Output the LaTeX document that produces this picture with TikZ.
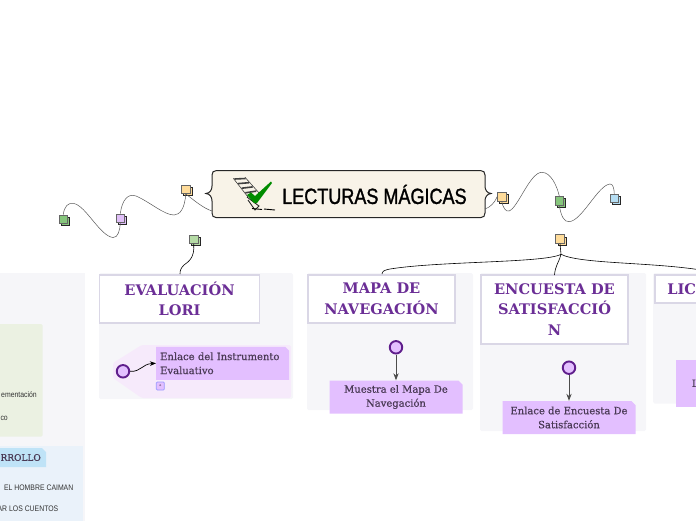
\documentclass[tikz,border=0pt]{standalone}
\usepackage{fontspec}
\setmainfont{DejaVu Serif}
\newfontfamily\condfont[FakeStretch=0.86]{Liberation Sans}
\newfontfamily\handfont[FakeStretch=0.82,FakeBold=1.2]{Liberation Sans}
\newfontfamily\leaffont[FakeBold=0.5]{DejaVu Serif}
\usetikzlibrary{arrows.meta,shapes.misc}
\definecolor{titlepurple}{HTML}{6B2E96}
\definecolor{panelgrey}{HTML}{F6F6F9}
\definecolor{framegrey}{HTML}{DAD7E6}
\definecolor{leafpurple}{HTML}{E3BFFF}
\definecolor{leaftext}{HTML}{4A3A55}
\definecolor{palepurple}{HTML}{F6EAFB}
\definecolor{ringpurple}{HTML}{5F1E8C}
\definecolor{cream}{HTML}{F8F3E8}
\definecolor{tagyellow}{HTML}{FFDC9A}
\definecolor{taggreen}{HTML}{86C67C}
\definecolor{taglime}{HTML}{B5DBA5}
\definecolor{taglilac}{HTML}{E0BFF8}
\definecolor{tagblue}{HTML}{B5DDF2}
\definecolor{palegreen}{HTML}{EBF1E2}
\definecolor{paleblue}{HTML}{EAF2FA}
\definecolor{chipblue}{HTML}{BFE3F7}
\tikzset{
  panel/.style={fill=panelgrey, rounded corners=1.5pt},
  titlebox/.style={draw=framegrey, line width=1.7pt, fill=white, align=center, text=titlepurple, font=\fontsize{14.6}{20.5}\selectfont\bfseries, inner sep=0pt},
  leafbox/.style={chamfered rectangle, chamfered rectangle corners=north east, chamfered rectangle xsep=2pt, chamfered rectangle ysep=2pt, fill=leafpurple, align=center, text=leaftext, font=\leaffont\fontsize{10}{14}\selectfont, inner sep=0pt},
  ringdot/.style={circle, draw=ringpurple, fill=leafpurple, line width=1.9pt, minimum size=12.5pt, inner sep=0pt},
  backtag/.style={draw=black!85, line width=.6pt, minimum size=8.5pt, inner sep=0pt, xshift=2.2pt, yshift=-2.2pt},
  fronttag/.style={draw=black!60, line width=.7pt, minimum size=8.5pt, inner sep=0pt},
  linkline/.style={line width=.5pt, draw=black!65},
  branchline/.style={line width=.6pt, draw=black},
  smalltext/.style={font=\condfont\fontsize{8}{9}\selectfont, text=black!80, inner sep=0pt}
}
% a small pair of stacked squares
\newcommand{\tagpair}[3]{%
  \node[backtag, fill=#3] at (#2) {};
  \node[fronttag, fill=#3] (#1) at (#2) {};
}
\begin{document}
\begin{tikzpicture}[x=1pt,y=-1pt,>=Stealth]
\useasboundingbox (0,0) rectangle (696,520);

% panels
\fill[panelgrey] (-5,273) rectangle (84.5,525);
\fill[panel] (99,273) rectangle (293,399);
\fill[panel] (307,273) rectangle (473,410);
\fill[panel] (480,273) rectangle (646,431);
\fill[panel] (653,273) rectangle (701,403.5);
\fill[palegreen, rounded corners=1.5pt] (-5,324) rectangle (42.7,436.7);
\fill[paleblue] (-5,445.7) rectangle (82.7,525);
\fill[chipblue] (-5,448) -- (42,448) -- (46,452) -- (46,467) -- (-5,467) -- cycle;
\node[font=\leaffont\fontsize{9}{9}\selectfont, text=leaftext, anchor=east, inner sep=0pt] (chipdev) at (41,457.5) {RROLLO};
\node[smalltext, anchor=east] (textimpl) at (37,395) {ementación};
\node[smalltext, anchor=east] (textco) at (8,418) {co};
\node[smalltext, anchor=east] (textcaiman) at (73.5,487.5) {EL HOMBRE CAIMAN};
\node[smalltext, anchor=east] (textcuentos) at (58.5,508.5) {AR LOS CUENTOS};

% title
\draw[fill=cream, line width=1pt, draw=black!85] (216,170.7) -- (481,170.7) .. controls (483.5,170.7) and (485,172) .. (485,175) -- (485,186) .. controls (485,190) and (487,193) .. (491,193.5) .. controls (487,194) and (485,197) .. (485,201) -- (485,213) .. controls (485,216) and (483.5,217.5) .. (481,217.5) -- (216,217.5) .. controls (213.5,217.5) and (212,216) .. (212,213) -- (212,201) .. controls (212,197) and (210,194) .. (206,193.5) .. controls (210,193) and (212,190) .. (212,186) -- (212,175) .. controls (212,172) and (213.5,170.7) .. (216,170.7) -- cycle;
\node[font=\handfont\fontsize{22}{24}\selectfont, inner sep=0pt, anchor=west] (title) at (282,194.5) {LECTURAS MÁGICAS};
% check icon
\draw[black!75, line width=.6pt] (233.3,178.3) -- (248,197) (245,177.3) -- (260,194);
\foreach \n in {0,1,2,3}
  \draw[black!75, line width=1.6pt] (234.5+\n*3.6,179+\n*4.6) -- (245.5+\n*3.6,178.5+\n*4.2);
\draw[black!85, line width=.9pt] (247,197) -- (259,206) -- (255,210) -- (248,200);
\draw[black, line width=.9pt] (252,208.5) -- (262,209.5) (264,209) -- (275,210);
\fill[green!55!black] (247,195) -- (251,192.5) -- (255,196) -- (271,181.5) -- (272,183) -- (257,203) -- (254,203) -- cycle;

% tags
\tagpair{tagone}{63.3,219.3}{taggreen}
\tagpair{tagtwo}{120.3,218.3}{taglilac}
\tagpair{tagthree}{185.7,189.3}{tagyellow}
\tagpair{tagfour}{193.7,239.3}{taglime}
\tagpair{tagfive}{501.7,196.7}{tagyellow}
\tagpair{tagsix}{559.3,200.7}{taggreen}
\tagpair{tagseven}{614.3,198.3}{tagblue}
\tagpair{tageight}{560,239}{tagyellow}

% title boxes
\node[titlebox, minimum width=160pt, minimum height=48pt] (lori) at (179.5,299) {EVALUACIÓN\\LORI};
\node[titlebox, minimum width=147pt, minimum height=48pt] (mapa) at (381.5,299) {MAPA DE\\NAVEGACIÓN};
\node[titlebox, minimum width=147pt, minimum height=69pt] (encuesta) at (554.5,309.5) {ENCUESTA DE\\SATISFACCIÓ\\N};
\node[titlebox, minimum height=28pt, anchor=west, inner xsep=12.5pt, text width=123pt, align=left] (licencia) at (654,289) {LICENCIA};

% enlace group
\fill[palepurple, rounded corners=1.5pt] (113,363) -- (141.7,345) -- (291,345) -- (291,398) -- (141.7,398) -- (113,378) -- cycle;
\node[leafbox, minimum width=133pt, minimum height=33pt, anchor=west, align=left, inner xsep=2pt, text width=125pt] (enlace) at (156,363.3) {Enlace del Instrumento\\Evaluativo};
\node[ringdot] (ringlori) at (123,371.3) {};
\node[draw=blue!40, fill=leafpurple, rounded corners=1pt, line width=.7pt, minimum size=8pt, inner sep=0pt, font=\fontsize{3.5}{3.5}\selectfont, text=leaftext] (clip) at (160.3,386) {a};
\node[leafbox, minimum width=133pt, minimum height=33pt] (muestra) at (396,397) {Muestra el Mapa De\\Navegación};
\node[ringdot] (ringmapa) at (396,347.3) {};
\node[leafbox, minimum width=133pt, minimum height=33pt] (enc) at (569,417.5) {Enlace de Encuesta De\\Satisfacción};
\node[ringdot] (ringenc) at (569,367.7) {};
\node[leafbox, rectangle, minimum height=46.7pt, anchor=west, inner xsep=16pt, text width=30pt, align=left] (lic) at (675.7,383.3) {L};

% connectors
\draw[linkline] (tagone.north) .. controls (64,207) and (68,202) .. (74,203.5) .. controls (86,206) and (100,236) .. (113,237.5) .. controls (118,238) and (120,230) .. (tagtwo.south);
\draw[linkline] (tagtwo.north) .. controls (122,200) and (128,193) .. (136,196) .. controls (150,202) and (164,215) .. (174,215) .. controls (180,215) and (185,208) .. (tagthree.south);
\draw[linkline] (tagthree.south) .. controls (195,201) and (203,208) .. (212,211);
\draw[linkline] (485,209) .. controls (490,207) and (494,204) .. (tagfive.west);
\draw[linkline] (tagfive.south) .. controls (503,208) and (506,212) .. (509,211) .. controls (518,208) and (530,172) .. (542,172.3) .. controls (551,172.5) and (557,186) .. (tagsix.north);
\draw[linkline] (tagsix.south) .. controls (561,216) and (564,222) .. (569,221.7) .. controls (582,221) and (598,185) .. (610,184) .. controls (613,184) and (614,188) .. (tagseven.north);
\draw[branchline] (tagfour.south) .. controls (195,258) and (188,262) .. (184,265) .. controls (181,268) and (180,270) .. (180,274);
\coordinate (forkpoint) at (561,254.3);
\draw[branchline] (tageight.south) -- (forkpoint);
\draw[branchline] (forkpoint) .. controls (545,263) and (440,261) .. (390,269) .. controls (385,270) and (382,271) .. (382,274);
\draw[branchline] (forkpoint) .. controls (560,260) and (555,266) .. (554.5,275);
\draw[branchline] (forkpoint) .. controls (580,264) and (650,262) .. (701,270);
\draw[linkline, black, line width=.7pt, ->] (ringlori.east) .. controls (141,372) and (142,364) .. (enlace.west);
\draw[linkline, black!70, line width=.9pt, ->] (ringmapa.south) -- (muestra.north);
\draw[linkline, black!70, line width=.9pt, ->] (ringenc.south) -- (enc.north);
\end{tikzpicture}
\end{document}
